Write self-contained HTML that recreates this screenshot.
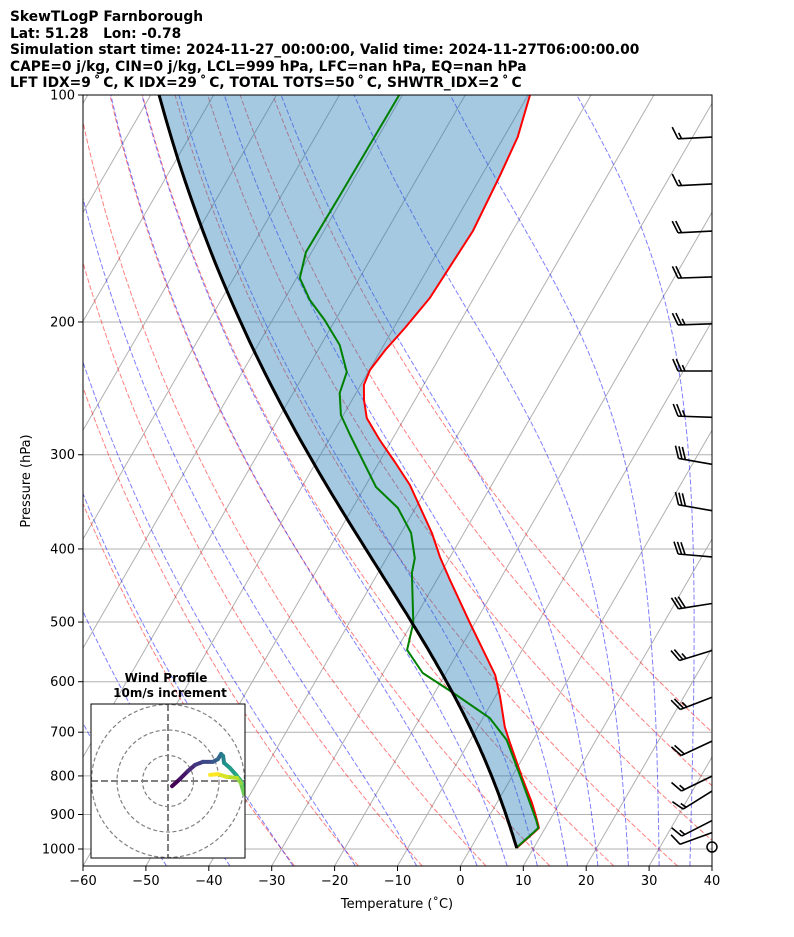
<!DOCTYPE html>
<html><head><meta charset="utf-8">
<style>
html,body{margin:0;padding:0;background:#fff;}
svg{display:block;font-family:"DejaVu Sans","Liberation Sans",sans-serif;}
</style></head>
<body>
<svg id="chart" width="794" height="937" viewBox="0 0 794 937" xmlns="http://www.w3.org/2000/svg">
<defs><clipPath id="plotclip"><rect x="83" y="95" width="629" height="771"/></clipPath>
<clipPath id="hodoclip"><rect x="91" y="704" width="154" height="154"/></clipPath></defs>
<g font-weight="bold" font-size="13.8" fill="#000" style="white-space:pre">
<text x="10" y="21">SkewTLogP Farnborough</text>
<text x="10" y="38" xml:space="preserve">Lat: 51.28   Lon: -0.78</text>
<text x="10" y="54">Simulation start time: 2024-11-27_00:00:00, Valid time: 2024-11-27T06:00:00.00</text>
<text x="10" y="71">CAPE=0 j/kg, CIN=0 j/kg, LCL=999 hPa, LFC=nan hPa, EQ=nan hPa</text>
<text x="10" y="87">LFT IDX=9&#8201;˚&#8201;C, K IDX=29&#8201;˚&#8201;C, TOTAL TOTS=50&#8201;˚&#8201;C, SHWTR_IDX=2&#8201;˚&#8201;C</text>
</g>
<g id="bg" clip-path="url(#plotclip)"></g>
<g id="fg" clip-path="url(#plotclip)"></g>
<g id="barbs"></g>
<g id="axes"></g>
<g id="hodo"></g>
</svg>
<script>
// ---- data ----
const tempP = [997, 952, 938, 929, 896, 869, 802.6, 723.5, 689, 628.6, 587.8, 501.4, 439.9, 410.1, 381, 329, 306.7, 286.9, 268.2, 253.8, 242.4, 231.6, 217.9, 203.7, 185.9, 151.5, 127.7, 113.7, 100];
const tempC = [7.3, 8.6, 9.0, 8.6, 7.0, 5.6, 1.6, -3.4, -5.7, -9.2, -12.0, -20.8, -27.9, -31.6, -35.1, -43.0, -47.5, -51.9, -56.0, -58.1, -59.5, -59.9, -59.3, -58.2, -57.0, -56.3, -57.1, -57.8, -59.7];
const dewP = [997, 952, 938, 915, 802.6, 716.9, 670.4, 621, 584.3, 544.5, 501.4, 430.6, 411.4, 381, 353, 331.1, 282.4, 265.7, 248.5, 233, 214.6, 198.8, 187, 174.9, 161.6, 135.7, 116.5, 100];
const dewC = [7.2, 8.5, 8.9, 7.8, 1.4, -4.2, -8.9, -17.0, -23.7, -28.3, -29.8, -34.6, -35.5, -38.4, -42.8, -48.2, -57.1, -60.4, -62.6, -63.4, -67.0, -71.7, -75.9, -79.5, -80.9, -80.7, -80.6, -80.5];
const windP = [113.7, 131.2, 151.5, 174.3, 201.1, 232.3, 267.6, 308.9, 355.9, 409.9, 472.5, 545.5, 629.2, 719.4, 800.4, 837.8, 916.9, 951.3];
const windDir = [267, 267, 267, 268, 268, 270, 272, 280, 280, 275, 261, 253, 249, 245, 244, 238, 243, 250];
const windSpd = [15, 15, 20, 20, 25, 25, 25, 30, 30, 30, 30, 25, 25, 20, 15, 15, 15, 10];
const calmP = [994];
const hodoU = [1.6, 4.7, 7.8, 10.6, 13.7, 17.6, 19.6, 20.8, 21.6, 22.0, 24.3, 26.7, 28.6, 29.8, 29.8, 28.6, 27.1, 23.1, 19.6, 16.5];
const hodoV = [-2.0, 0.8, 3.9, 6.3, 7.5, 7.5, 8.6, 10.6, 9.8, 7.1, 5.1, 2.4, 0.0, -3.1, -5.1, -0.8, 1.2, 1.6, 2.7, 2.4];
const pTicks = [100, 200, 300, 400, 500, 600, 700, 800, 900, 1000];
const tTicks = [-60, -50, -40, -30, -20, -10, 0, 10, 20, 30, 40];
const dryTheta = [-30, -20, -10, 0, 10, 20, 30, 40, 50, 60];
const moistT0 = [-50, -40, -30, -20, -10, 0, 5, 10, 15, 20, 25, 30, 35, 40, 45];

// ---- axis functions ----
const NS = "http://www.w3.org/2000/svg";
const X0 = 83, X1 = 712, Y0 = 95, Y1 = 866, PBOT = 100 * Math.pow(10, (Y1 - Y0) / 754);
const SK = Math.tan(30 * Math.PI / 180);
function yP(p) { return Y0 + 754 * Math.log10(p / 100); }
function xT(t, p) { return X0 + (t + 60) * (X1 - X0) / 100 + SK * (Y1 - yP(p)); }
function mk(tag, attrs, parent) { const e = document.createElementNS(NS, tag); for (const k in attrs) e.setAttribute(k, attrs[k]); parent.appendChild(e); return e; }
function pts(ps, ts) { return ps.map((p, i) => xT(ts[i], p).toFixed(1) + "," + yP(p).toFixed(1)).join(" "); }

function dTdp(p, T) {
  const Rd = 287.04, Cp = 1005.7, Lv = 2.501e6, eps = 0.622;
  const es = 6.112 * Math.exp(17.67 * (T - 273.15) / (T - 29.65));
  const rs = eps * es / (p - es);
  return (Rd * T + Lv * rs) / (Cp + Lv * Lv * rs * eps / (Rd * T * T)) / p;
}
function moist(p0, t0C, pEnd, n) {
  let T = t0C + 273.15, p = p0; const ps = [p], ts = [t0C]; const h = (pEnd - p0) / n;
  for (let i = 0; i < n; i++) {
    const k1 = dTdp(p, T), k2 = dTdp(p + h / 2, T + h / 2 * k1), k3 = dTdp(p + h / 2, T + h / 2 * k2), k4 = dTdp(p + h, T + h * k3);
    T += h / 6 * (k1 + 2 * k2 + 2 * k3 + k4); p += h; ps.push(p); ts.push(T - 273.15);
  }
  return [ps, ts];
}

const bg = document.getElementById("bg"), fg = document.getElementById("fg");
pTicks.forEach(p => {
  const l = mk("line", { x1: X0, x2: X1, y1: yP(p), y2: yP(p), stroke: "#b0b0b0", "stroke-width": 1 }, bg);
  
  
});
for (let t = -140; t <= 40; t += 10) {
  const l = mk("line", { x1: xT(t, PBOT), y1: Y1, x2: xT(t, 100), y2: Y0, stroke: "#b0b0b0", "stroke-width": 1 }, bg);
  
  
}
dryTheta.forEach(th => {
  const ps = [], ts = [];
  for (let p = PBOT; p >= 99; p -= 10) { ps.push(p); ts.push((th + 273.15) * Math.pow(p / 1000, 0.2857) - 273.15); }
  ps.push(100); ts.push((th + 273.15) * Math.pow(0.1, 0.2857) - 273.15);
  const l = mk("polyline", { points: pts(ps, ts), fill: "none", stroke: "rgba(255,0,0,0.5)", "stroke-width": 1, "stroke-dasharray": "5,2.2" }, bg);
  
  
});
moistT0.forEach(t0 => {
  const up = moist(1000, t0, 100, 90), dn = moist(1000, t0, PBOT, 6);
  const ps = dn[0].slice().reverse().concat(up[0].slice(1)), ts = dn[1].slice().reverse().concat(up[1].slice(1));
  const l = mk("polyline", { points: pts(ps, ts), fill: "none", stroke: "rgba(0,0,255,0.5)", "stroke-width": 1, "stroke-dasharray": "5,2.2" }, bg);
  
  
});
const parcel = moist(tempP[0], tempC[0], 100, 120);
const fillPts = pts(parcel[0], parcel[1]) + " " + pts(tempP.slice().reverse(), tempC.slice().reverse());
const fillEl = mk("polygon", { points: fillPts, fill: "rgba(31,119,180,0.4)", stroke: "none" }, fg);


const tLine = mk("polyline", { points: pts(tempP, tempC), fill: "none", stroke: "#ff0000", "stroke-width": 2, "stroke-linejoin": "round" }, fg);


const dLine = mk("polyline", { points: pts(dewP, dewC), fill: "none", stroke: "#008000", "stroke-width": 2, "stroke-linejoin": "round" }, fg);


const pLine = mk("polyline", { points: pts(parcel[0], parcel[1]), fill: "none", stroke: "#000", "stroke-width": 3 }, fg);



const bG = document.getElementById("barbs");
windP.forEach((p, i) => {
  const g = mk("g", { stroke: "#000", "stroke-width": 1.6, fill: "none" }, bG);
  
  
  const a = windDir[i] * Math.PI / 180;
  const ux = Math.sin(a), uy = -Math.cos(a);
  const L = 34, bx = X1, by = yP(p);
  const tx = bx + ux * L, ty = by + uy * L;
  mk("line", { x1: bx, y1: by, x2: tx, y2: ty }, g);
  const px = -uy, py = ux;
  const vx = 0.92 * px + 0.4 * ux, vy = 0.92 * py + 0.4 * uy;
  let s = 1; if (vy > 0) s = -1;
  let spd = windSpd[i], k = 0;
  const full = Math.floor(spd / 10), half = (spd % 10) >= 5 ? 1 : 0;
  for (let j = 0; j < full; j++) { const ox = tx - ux * 3.5 * k, oy = ty - uy * 3.5 * k; mk("line", { x1: ox, y1: oy, x2: ox + s * vx * 13, y2: oy + s * vy * 13 }, g); k++; }
  if (half) { if (k === 0) k = 1; const ox = tx - ux * 3.5 * k, oy = ty - uy * 3.5 * k; mk("line", { x1: ox, y1: oy, x2: ox + s * vx * 6.5, y2: oy + s * vy * 6.5 }, g); }
});
calmP.forEach(p => {
  const c = mk("circle", { cx: X1, cy: yP(p), r: 5, fill: "none", stroke: "#000", "stroke-width": 1.5 }, bG);
  
  
});

const ax = document.getElementById("axes");
const frame = mk("rect", { x: X0, y: Y0, width: X1 - X0, height: Y1 - Y0, fill: "none", stroke: "#000", "stroke-width": 1 }, ax);


pTicks.forEach(p => {
  mk("line", { x1: X0 - 5, x2: X0, y1: yP(p), y2: yP(p), stroke: "#000", "stroke-width": 1 }, ax);
  const t = mk("text", { x: X0 - 8, y: yP(p) + 4.5, "text-anchor": "end", "font-size": 13 }, ax);
  t.textContent = p;
  
  
});
tTicks.forEach(v => {
  const x = X0 + (v + 60) * (X1 - X0) / 100;
  mk("line", { x1: x, x2: x, y1: Y1, y2: Y1 + 5, stroke: "#000", "stroke-width": 1 }, ax);
  const t = mk("text", { x: x, y: Y1 + 19, "text-anchor": "middle", "font-size": 13 }, ax);
  t.textContent = (v < 0 ? "\u2212" + (-v) : v);
  
  
});
const xl = mk("text", { x: 397, y: 908, "text-anchor": "middle", "font-size": 13 }, ax);
xl.textContent = "Temperature (\u02daC)";


const yl = mk("text", { x: 30, y: 481, "text-anchor": "middle", "font-size": 13, transform: "rotate(-90 30 481)" }, ax);
yl.textContent = "Pressure (hPa)";



const hg = document.getElementById("hodo");
const HX = 168, HY = 781, HS = 2.55;
const hbg = mk("rect", { x: 91, y: 704, width: 154, height: 154, fill: "#fff", stroke: "none" }, hg);


const hin = mk("g", { "clip-path": "url(#hodoclip)" }, hg);
[10, 20, 30].forEach(r => mk("circle", { cx: HX, cy: HY, r: r * HS, fill: "none", stroke: "#808080", "stroke-width": 1.2, "stroke-dasharray": "4,2.5" }, hin));
mk("line", { x1: 91, x2: 245, y1: HY, y2: HY, stroke: "#808080", "stroke-width": 2, "stroke-dasharray": "7,3" }, hin);
mk("line", { x1: HX, x2: HX, y1: 704, y2: 858, stroke: "#808080", "stroke-width": 2, "stroke-dasharray": "7,3" }, hin);
const vir = [[68,1,84],[72,36,117],[65,68,135],[53,95,141],[42,120,142],[33,145,140],[34,168,132],[68,191,112],[122,209,81],[189,223,38],[253,231,37]];
function vcol(f) { const s = f * (vir.length - 1), i = Math.min(Math.floor(s), vir.length - 2), r = s - i; const c = vir[i].map((v, k) => Math.round(v + (vir[i + 1][k] - v) * r)); return "rgb(" + c.join(",") + ")"; }
for (let i = 0; i < hodoU.length - 1; i++) {
  const f = i / (hodoU.length - 2);
  const seg = mk("line", { x1: HX + hodoU[i] * HS, y1: HY - hodoV[i] * HS, x2: HX + hodoU[i + 1] * HS, y2: HY - hodoV[i + 1] * HS, stroke: vcol(f), "stroke-width": 4, "stroke-linecap": "round" }, hin);
  
  
}
const hf = mk("rect", { x: 91, y: 704, width: 154, height: 154, fill: "none", stroke: "#000", "stroke-width": 1 }, hg);


const ht1 = mk("text", { x: 166, y: 682, "text-anchor": "middle", "font-size": 12, "font-weight": "bold" }, hg);
ht1.textContent = "Wind Profile";


const ht2 = mk("text", { x: 170, y: 697, "text-anchor": "middle", "font-size": 12, "font-weight": "bold" }, hg);
ht2.textContent = "10m/s increment";


</script>
</body></html>
